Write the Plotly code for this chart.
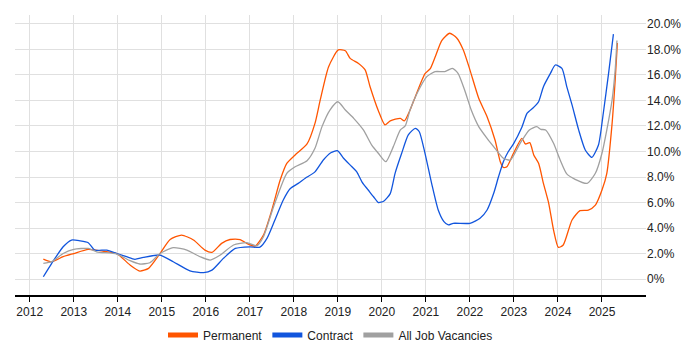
import plotly.graph_objects as go

# ---- data (decimal year, percent) ----
perm_x = [2012.31, 2012.5, 2012.76, 2013.0, 2013.33, 2013.75, 2013.98, 2014.28, 2014.5, 2014.7,
          2014.96, 2015.19, 2015.45, 2015.72, 2015.98, 2016.14, 2016.36, 2016.55, 2016.78, 2016.93,
          2017.12, 2017.31, 2017.5, 2017.69, 2017.84, 2018.03, 2018.3, 2018.48, 2018.6, 2018.79,
          2019.01, 2019.17, 2019.28, 2019.47, 2019.62, 2019.73, 2019.92, 2020.07, 2020.19, 2020.42,
          2020.51, 2020.64, 2020.76, 2020.98, 2021.1, 2021.21, 2021.36, 2021.54, 2021.7, 2021.85,
          2022.0, 2022.2, 2022.39, 2022.57, 2022.69, 2022.76, 2022.84, 2022.99, 2023.18, 2023.26,
          2023.36, 2023.45, 2023.56, 2023.67, 2023.79, 2023.9, 2024.01, 2024.12, 2024.32, 2024.5,
          2024.69, 2024.85, 2025.0, 2025.11, 2025.23, 2025.3, 2025.35]
perm_y = [1.57, 1.36, 1.75, 2.0, 2.33, 2.14, 2.0, 1.1, 0.63, 0.84,
          2.0, 3.1, 3.45, 3.06, 2.27, 2.09, 2.8, 3.1, 3.1, 2.8,
          2.59, 3.45, 5.41, 7.76, 9.07, 9.73, 10.59, 12.2, 14.04, 16.65,
          17.96, 17.9, 17.3, 16.9, 16.4, 15.1, 13.2, 12.08, 12.4, 12.6,
          12.4, 13.25, 14.3, 16.1, 16.5, 17.4, 18.7, 19.27, 18.9, 17.96,
          16.4, 14.17, 12.73, 10.9, 9.2, 8.75, 8.8, 9.86, 11.03, 10.59,
          10.69, 9.73, 9.07, 7.5, 5.94, 3.84, 2.48, 2.67, 4.63, 5.36,
          5.41, 5.8, 6.98, 8.29, 12.2, 15.6, 18.5]

contract_x = [2012.31, 2012.5, 2012.76, 2012.95, 2013.14, 2013.33, 2013.48, 2013.75, 2013.98, 2014.2,
              2014.39, 2014.58, 2014.96, 2015.26, 2015.64, 2015.95, 2016.14, 2016.4, 2016.67, 2017.0,
              2017.23, 2017.39, 2017.57, 2017.76, 2017.92, 2018.1, 2018.26, 2018.48, 2018.67, 2018.84,
              2018.99, 2019.13, 2019.32, 2019.43, 2019.55, 2019.69, 2019.81, 2019.92, 2020.04, 2020.19,
              2020.3, 2020.45, 2020.6, 2020.76, 2020.85, 2020.98, 2021.13, 2021.28, 2021.41, 2021.51,
              2021.62, 2022.0, 2022.23, 2022.39, 2022.54, 2022.65, 2022.76, 2022.87, 2022.99, 2023.18,
              2023.3, 2023.45, 2023.56, 2023.67, 2023.83, 2023.94, 2024.09, 2024.2, 2024.32, 2024.47,
              2024.62, 2024.77, 2024.92, 2025.03, 2025.15, 2025.26]
contract_y = [0.18, 1.23, 2.53, 3.06, 3.0, 2.85, 2.27, 2.27, 2.0, 1.75,
              1.55, 1.7, 1.88, 1.36, 0.65, 0.5, 0.7, 1.62, 2.4, 2.53,
              2.5, 3.19, 4.63, 6.2, 7.1, 7.5, 7.9, 8.4, 9.33, 9.9,
              10.06, 9.47, 8.8, 8.4, 7.6, 6.98, 6.45, 6.0, 6.1, 6.7,
              8.29, 9.86, 11.3, 11.82, 11.55, 9.86, 7.5, 5.41, 4.5, 4.24,
              4.37, 4.37, 4.76, 5.41, 6.72, 8.02, 9.2, 9.98, 10.6, 11.9,
              13.0, 13.47, 13.9, 15.08, 16.13, 16.78, 16.52, 15.08, 13.65, 11.69,
              10.12, 9.54, 10.51, 13.0, 16.13, 19.2]

all_x = [2012.31, 2012.5, 2012.76, 2013.0, 2013.33, 2013.52, 2013.98, 2014.28, 2014.5, 2014.73,
         2014.96, 2015.26, 2015.57, 2015.87, 2016.1, 2016.33, 2016.63, 2016.93, 2017.16, 2017.31,
         2017.54, 2017.84, 2018.03, 2018.3, 2018.48, 2018.64, 2018.82, 2019.0, 2019.17, 2019.36,
         2019.58, 2019.77, 2019.92, 2020.09, 2020.26, 2020.42, 2020.53, 2020.64, 2020.8, 2021.02,
         2021.21, 2021.43, 2021.6, 2021.73, 2021.88, 2022.03, 2022.2, 2022.39, 2022.57, 2022.76,
         2022.92, 2023.14, 2023.35, 2023.52, 2023.61, 2023.72, 2023.9, 2024.05, 2024.2, 2024.39,
         2024.66, 2024.85, 2025.0, 2025.11, 2025.23, 2025.3, 2025.34]
all_y = [1.23, 1.36, 2.0, 2.33, 2.4, 2.14, 1.96, 1.44, 1.18, 1.28,
         2.0, 2.46, 2.27, 1.75, 1.49, 1.88, 2.67, 2.85, 2.61, 3.32,
         5.67, 8.29, 8.8, 9.28, 10.25, 11.95, 13.25, 13.9, 13.25, 12.6,
         11.69, 10.5, 9.86, 9.2, 10.38, 11.69, 12.0, 13.25, 14.56, 15.87,
         16.26, 16.26, 16.52, 16.13, 14.82, 13.25, 11.95, 11.03, 10.25, 9.47,
         9.33, 10.64, 11.69, 11.95, 11.74, 11.69, 10.64, 9.33, 8.24, 7.82,
         7.5, 8.29, 9.86, 11.69, 14.04, 16.4, 18.7]

series_names = ["Permanent", "Contract", "All Job Vacancies"]
series_colors = ["#FF5500", "#1155DD", "#A0A0A0"]

year_ticks = list(range(2012, 2026))
year_labels = [str(y) for y in year_ticks]
pct_ticks = [0, 2, 4, 6, 8, 10, 12, 14, 16, 18, 20]
pct_labels = ["0%", "2.0%", "4.0%", "6.0%", "8.0%", "10.0%", "12.0%", "14.0%", "16.0%", "18.0%", "20.0%"]

fig = go.Figure()
for xs, ys, name, color in zip([perm_x, contract_x, all_x], [perm_y, contract_y, all_y],
                               series_names, series_colors):
    fig.add_trace(go.Scatter(x=xs, y=ys, mode="lines", name=name, showlegend=False,
                             line=dict(color=color, width=1.3, shape="spline", smoothing=0.6)))
# legend-only entries with thick swatches
for name, color in zip(series_names, series_colors):
    fig.add_trace(go.Scatter(x=[None], y=[None], mode="lines", name=name,
                             line=dict(color=color, width=5)))

# note: page body has an 8px default margin, compensated in the margins below
fig.update_layout(
    width=700, height=350,
    margin=dict(l=7, r=62, t=7, b=63),
    paper_bgcolor="white", plot_bgcolor="white",
    font=dict(family="Liberation Sans, Arial, sans-serif", size=12, color="#222"),
    showlegend=True,
    legend=dict(orientation="h", x=0.5, xanchor="center", y=-0.143, yanchor="middle",
                font=dict(size=12, color="#222"), traceorder="normal",
                itemwidth=30, tracegroupgap=0),
    hovermode=False,
)
fig.update_xaxes(
    range=[2011.666, 2026.0],
    tickvals=year_ticks, ticktext=year_labels,
    showgrid=True, gridcolor="#E0E0E0", gridwidth=1,
    showline=True, linecolor="#000", linewidth=1.5,
    ticks="outside", ticklen=5, tickcolor="#000",
    zeroline=False,
)
fig.update_yaxes(
    range=[-1.25, 20.7], side="right",
    tickvals=pct_ticks, ticktext=pct_labels,
    showgrid=True, gridcolor="#E0E0E0", gridwidth=1,
    showline=False, zeroline=False, ticks="",
)

fig.write_html("out.html")
